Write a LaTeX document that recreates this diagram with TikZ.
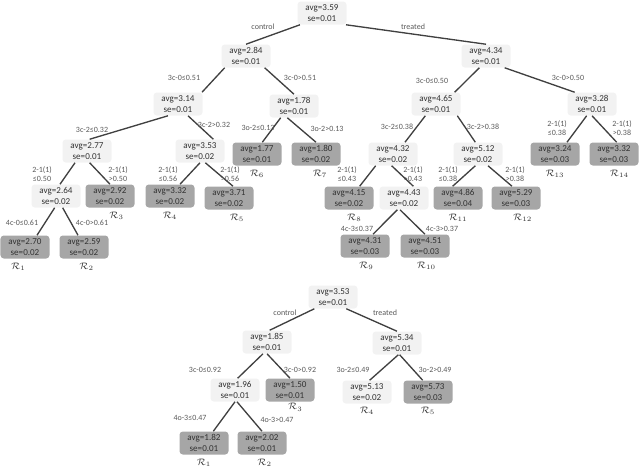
\documentclass[tikz,border=0pt]{standalone}
\usepackage{fontspec}
\setmainfont{Carlito}
\usetikzlibrary{positioning}
\definecolor{splitfill}{HTML}{F2F2F2}
\definecolor{leaffill}{HTML}{A6A6A6}
\definecolor{ink}{HTML}{333333}
\definecolor{cutgray}{HTML}{595959}
\definecolor{wire}{HTML}{404040}
\tikzset{
  split/.style={rectangle, fill=splitfill, text=ink, rounded corners=2.5pt, align=center, minimum width=36.75pt, minimum height=17.25pt, inner sep=0pt, font=\fontsize{6.8}{8.2}\selectfont},
  leaf/.style={split, fill=leaffill},
  cut/.style={text=cutgray, align=center, inner sep=0pt, font=\fontsize{6}{7}\selectfont},
  region/.style={text=ink, inner sep=0pt, font=\fontsize{7}{8}\selectfont},
  branch/.style={draw=wire, line width=1pt},
}

\begin{document}
\begin{tikzpicture}[x=0.75pt, y=-0.75pt]
  \useasboundingbox (0,0) rectangle (640,469);
  % upper tree
  \node[split] (root) at (322,13) {avg=3.59\\se=0.01};
  \node[split] (n284) at (246,56) {avg=2.84\\se=0.01};
  \node[split] (n434) at (486,56) {avg=4.34\\se=0.01};
  \node[split] (n314) at (178,104) {avg=3.14\\se=0.01};
  \node[split] (n178) at (294,106) {avg=1.78\\se=0.01};
  \node[split] (n465) at (436,104) {avg=4.65\\se=0.01};
  \node[split] (n328) at (592,104) {avg=3.28\\se=0.01};
  \node[split] (n277) at (87,151) {avg=2.77\\se=0.01};
  \node[split] (n353) at (200,151) {avg=3.53\\se=0.02};
  \node[leaf] (r6) at (257,154) {avg=1.77\\se=0.01};
  \node[leaf] (r7) at (316,154) {avg=1.80\\se=0.02};
  \node[split] (n432) at (393,154) {avg=4.32\\se=0.02};
  \node[split] (n512) at (478,154) {avg=5.12\\se=0.02};
  \node[leaf] (r13) at (555,154) {avg=3.24\\se=0.03};
  \node[leaf] (r14) at (614,154) {avg=3.32\\se=0.03};
  \node[split] (n264) at (56,196) {avg=2.64\\se=0.02};
  \node[leaf] (r3) at (110,196) {avg=2.92\\se=0.02};
  \node[leaf] (r4) at (170,196) {avg=3.32\\se=0.02};
  \node[leaf] (r5) at (229,198) {avg=3.71\\se=0.02};
  \node[leaf] (r8) at (349,198) {avg=4.15\\se=0.02};
  \node[split] (n443) at (404,198) {avg=4.43\\se=0.02};
  \node[leaf] (r11) at (458,198) {avg=4.86\\se=0.04};
  \node[leaf] (r12) at (516,198) {avg=5.29\\se=0.03};
  \node[leaf] (r1) at (25,247) {avg=2.70\\se=0.02};
  \node[leaf] (r2) at (84,247) {avg=2.59\\se=0.02};
  \node[leaf] (r9) at (365,246) {avg=4.31\\se=0.03};
  \node[leaf] (r10) at (425,246) {avg=4.51\\se=0.03};

  \draw[branch] ([xshift=-16.5pt]root.south) -- (n284.north);
  \draw[branch] ([xshift=18pt]root.south) -- (n434.north);
  \draw[branch] ([xshift=-16pt]n284.south) -- ([xshift=18pt]n314.north);
  \draw[branch] ([xshift=14pt]n284.south) -- (n178.north);
  \draw[branch] ([xshift=-7.5pt]n314.south) -- ([xshift=2pt]n277.north);
  \draw[branch] ([xshift=7.5pt]n314.south) -- ([xshift=10pt]n353.north);
  \draw[branch] ([xshift=-5pt]n434.south) -- ([xshift=14pt]n465.north);
  \draw[branch] ([xshift=14pt]n434.south) -- ([xshift=-13pt]n328.north);
  \draw[branch] ([xshift=-4pt]n328.south) -- ([xshift=9pt]r13.north);
  \draw[branch] (n328.south) -- ([xshift=2pt]r14.north);
  \draw[branch] ([xshift=-9pt]n277.south) -- ([xshift=3pt]n264.north);
  \draw[branch] ([xshift=2pt]n277.south) -- (r3.north);
  \draw[branch] ([xshift=-1pt]n264.south) -- ([xshift=9pt]r1.north);
  \draw[branch] ([xshift=5pt]n264.south) -- ([xshift=-4.5pt]r2.north);
  \draw[branch] (n353.south) -- ([xshift=7.5pt]r4.north);
  \draw[branch] ([xshift=4pt]n353.south) -- ([xshift=3pt]r5.north);
  \draw[branch] ([xshift=-10pt]n178.south) -- ([xshift=4pt]r6.north);
  \draw[branch] ([xshift=-5pt]n178.south) -- (r7.north);
  \draw[branch] ([xshift=-8pt]n465.south) -- ([xshift=9pt]n432.north);
  \draw[branch] ([xshift=16pt]n465.south) -- ([xshift=-2pt]n512.north);
  \draw[branch] ([xshift=-13pt]n432.south) -- ([xshift=8pt]r8.north);
  \draw[branch] ([xshift=-1pt]n432.south) -- ([xshift=7pt]n443.north);
  \draw[branch] ([xshift=-2pt]n512.south) -- ([xshift=-4pt]r11.north);
  \draw[branch] ([xshift=7.5pt]n512.south) -- ([xshift=-3pt]r12.north);
  \draw[branch] ([xshift=-5pt]n443.south) -- ([xshift=6pt]r9.north);
  \draw[branch] ([xshift=-3pt]n443.south) -- (r10.north);

  \node[cut] (c1) at (263,27) {control};
  \node[cut] (c2) at (413,27) {treated};
  \node[cut] (c3) at (184,78) {3c-0≤0.51};
  \node[cut] (c4) at (300,78) {3c-0>0.51};
  \node[cut] (c5) at (92,130) {3c-2≤0.32};
  \node[cut] (c6) at (214,125) {3c-2>0.32};
  \node[cut] (c7) at (432,81) {3c-0≤0.50};
  \node[cut] (c8) at (568,78) {3c-0>0.50};
  \node[cut] (c9) at (258,128) {3o-2≤0.13};
  \node[cut] (c10) at (327,129) {3o-2>0.13};
  \node[cut] (c11) at (397,127) {3c-2≤0.38};
  \node[cut] (c12) at (483,127) {3c-2>0.38};
  \node[cut] (c13) at (557,128) {2-1(1)\\≤0.38};
  \node[cut] (c14) at (622,128) {2-1(1)\\>0.38};
  \node[cut] (c15) at (42,174) {2-1(1)\\≤0.50};
  \node[cut] (c16) at (118,174) {2-1(1)\\>0.50};
  \node[cut] (c17) at (168,174) {2-1(1)\\≤0.56};
  \node[cut] (c18) at (230,174) {2-1(1)\\>0.56};
  \node[cut] (c19) at (347,174) {2-1(1)\\≤0.43};
  \node[cut] (c20) at (413,174) {2-1(1)\\>0.43};
  \node[cut] (c21) at (448,174) {2-1(1)\\≤0.38};
  \node[cut] (c22) at (515,174) {2-1(1)\\>0.38};
  \node[cut] (c23) at (22,223) {4c-0≤0.61};
  \node[cut] (c24) at (92,223) {4c-0>0.61};
  \node[cut] (c25) at (357,229) {4c-3≤0.37};
  \node[cut] (c26) at (442,229) {4c-3>0.37};

  \node[region, below=3pt of r1, xshift=-5pt] (R1) {$\mathcal{R}_1$};
  \node[region, below=3pt of r2, xshift=2pt] (R2) {$\mathcal{R}_2$};
  \node[region, below=3pt of r3, xshift=5pt] (R3) {$\mathcal{R}_3$};
  \node[region, below=3pt of r4] (R4) {$\mathcal{R}_4$};
  \node[region, below=3pt of r5, xshift=6pt] (R5) {$\mathcal{R}_5$};
  \node[region, below=3pt of r6] (R6) {$\mathcal{R}_6$};
  \node[region, below=3pt of r7, xshift=3pt] (R7) {$\mathcal{R}_7$};
  \node[region, below=3pt of r8, xshift=4pt] (R8) {$\mathcal{R}_8$};
  \node[region, below=3pt of r9, xshift=1pt] (R9) {$\mathcal{R}_9$};
  \node[region, below=3pt of r10, xshift=1pt] (R10) {$\mathcal{R}_{10}$};
  \node[region, below=3pt of r11] (R11) {$\mathcal{R}_{11}$};
  \node[region, below=3pt of r12, xshift=5pt] (R12) {$\mathcal{R}_{12}$};
  \node[region, below=3pt of r13] (R13) {$\mathcal{R}_{13}$};
  \node[region, below=3pt of r14, xshift=4pt] (R14) {$\mathcal{R}_{14}$};

  % lower tree
  \node[split] (b353) at (333,297) {avg=3.53\\se=0.01};
  \node[split] (b185) at (267,342) {avg=1.85\\se=0.01};
  \node[split] (b534) at (397,343) {avg=5.34\\se=0.01};
  \node[split] (b196) at (235,390) {avg=1.96\\se=0.01};
  \node[leaf] (s3) at (290,390) {avg=1.50\\se=0.01};
  \node[split] (s4) at (367,392) {avg=5.13\\se=0.02};
  \node[leaf] (s5) at (428,392) {avg=5.73\\se=0.03};
  \node[leaf] (s1) at (204,443) {avg=1.82\\se=0.01};
  \node[leaf] (s2) at (262,443) {avg=2.02\\se=0.01};

  \draw[branch] ([xshift=-14pt]b353.south) -- ([xshift=2pt]b185.north);
  \draw[branch] ([xshift=10pt]b353.south) -- (b534.north);
  \draw[branch] ([xshift=-3pt]b185.south) -- ([xshift=2pt]b196.north);
  \draw[branch] (b185.south) -- (s3.north);
  \draw[branch] (b196.south) -- ([xshift=7pt]s1.north);
  \draw[branch] ([xshift=1.5pt]b196.south) -- (s2.north);
  \draw[branch] ([xshift=1pt]b534.south) -- ([xshift=2pt]s4.north);
  \draw[branch] ([xshift=2pt]b534.south) -- ([xshift=-4pt]s5.north);

  \node[cut] (d1) at (285,313) {control};
  \node[cut] (d2) at (385,313) {treated};
  \node[cut] (d3) at (205,370) {3c-0≤0.92};
  \node[cut] (d4) at (300,370) {3c-0>0.92};
  \node[cut] (d5) at (190,418) {4o-3≤0.47};
  \node[cut] (d6) at (277,420) {4o-3>0.47};
  \node[cut] (d7) at (353,370) {3o-2≤0.49};
  \node[cut] (d8) at (435,370) {3o-2>0.49};

  \node[region, below=3pt of s1] (S1) {$\mathcal{R}_1$};
  \node[region, below=3pt of s2, xshift=2pt] (S2) {$\mathcal{R}_2$};
  \node[region, below=1pt of s3, xshift=4pt] (S3) {$\mathcal{R}_3$};
  \node[region, below=2pt of s4] (S4) {$\mathcal{R}_4$};
  \node[region, below=2pt of s5] (S5) {$\mathcal{R}_5$};
\end{tikzpicture}
\end{document}
